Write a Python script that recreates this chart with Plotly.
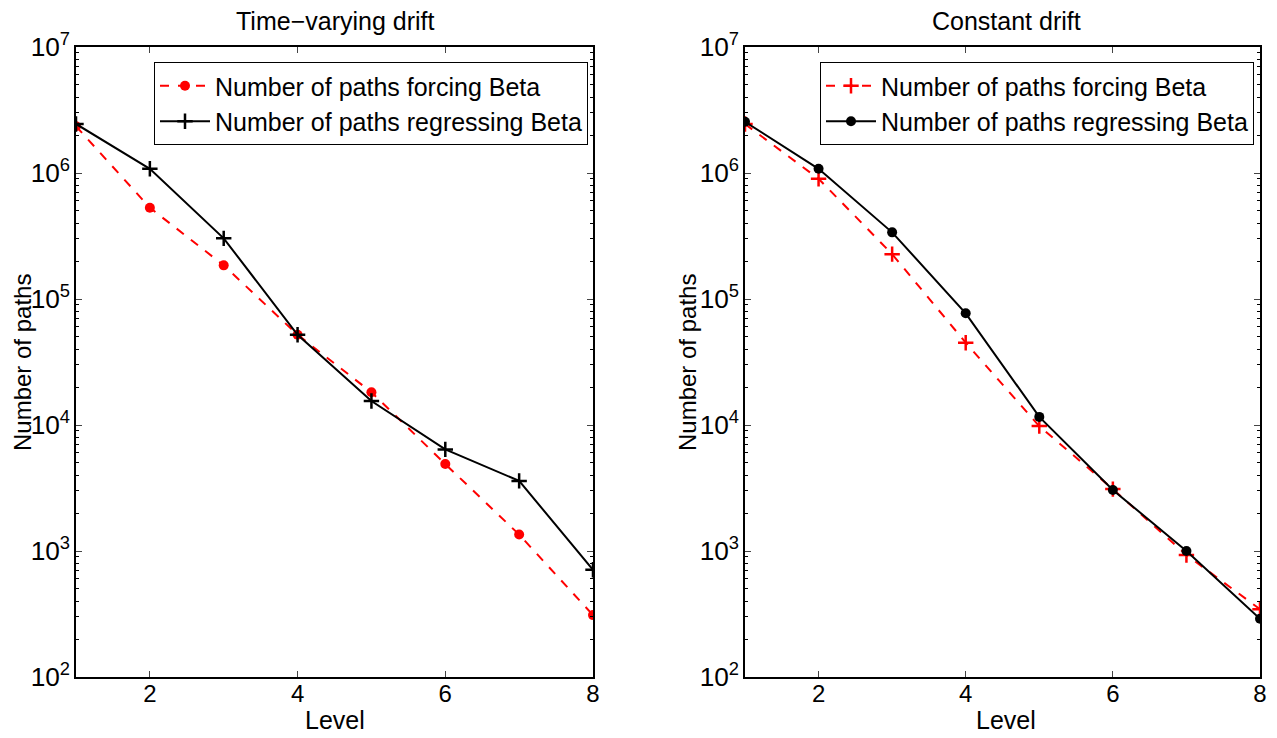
import plotly.graph_objects as go

levels = [1, 2, 3, 4, 5, 6, 7, 8]

# Time-varying drift
tv_forcing = [2.35e6, 5.3e5, 1.85e5, 5.2e4, 1.82e4, 4.9e3, 1.35e3, 310]
tv_regressing = [2.45e6, 1.08e6, 3.03e5, 5.2e4, 1.55e4, 6.4e3, 3.6e3, 710]

# Constant drift
cd_forcing = [2.45e6, 9.0e5, 2.27e5, 4.5e4, 9.8e3, 3.1e3, 930, 345]
cd_regressing = [2.55e6, 1.08e6, 3.38e5, 7.7e4, 1.16e4, 3.05e3, 1000, 290]

titles = ["Time\u2212varying drift", "Constant drift"]
name_forcing = "Number of paths forcing Beta"
name_regressing = "Number of paths regressing Beta"

# the page body has an 8px margin, so the figure is drawn offset by 8px
OFF = 8
W, H = 1277 - OFF, 738 - OFF
FONT = "Liberation Sans, Arial, sans-serif"

fig = go.Figure()

RED = "#ff0000"
BLACK = "#000000"

# left panel
fig.add_trace(go.Scatter(x=levels, y=tv_forcing, name=name_forcing, mode="lines+markers",
                         line=dict(color=RED, width=2, dash="dash"),
                         marker=dict(symbol="circle", size=10, color=RED),
                         xaxis="x", yaxis="y", legend="legend"))
fig.add_trace(go.Scatter(x=levels, y=tv_regressing, name=name_regressing, mode="lines+markers",
                         line=dict(color=BLACK, width=2),
                         marker=dict(symbol="cross-thin", size=11, color=BLACK,
                                     line=dict(color=BLACK, width=2.5)),
                         xaxis="x", yaxis="y", legend="legend"))
# right panel
fig.add_trace(go.Scatter(x=levels, y=cd_forcing, name=name_forcing, mode="lines+markers",
                         line=dict(color=RED, width=2, dash="dash"),
                         marker=dict(symbol="cross-thin", size=11, color=RED,
                                     line=dict(color=RED, width=2.5)),
                         xaxis="x2", yaxis="y2", legend="legend2"))
fig.add_trace(go.Scatter(x=levels, y=cd_regressing, name=name_regressing, mode="lines+markers",
                         line=dict(color=BLACK, width=2),
                         marker=dict(symbol="circle", size=10, color=BLACK),
                         xaxis="x2", yaxis="y2", legend="legend2"))

def px_x(p):
    return (p - OFF) / W

def px_y(p):
    return 1 - (p - OFF) / H

left_dom = [px_x(76), px_x(593)]
right_dom = [px_x(745), px_x(1260)]
y_dom = [px_y(677), px_y(47)]

xaxis_common = dict(range=[1, 8], tickvals=[2, 4, 6, 8], ticks="inside", ticklen=6,
                    showline=True, linecolor="black", linewidth=1.5, mirror="ticks",
                    showgrid=False, zeroline=False, automargin=False,
                    ticklabelstandoff=-6,
                    tickfont=dict(family=FONT, size=24, color="black"))
yaxis_common = dict(type="log", range=[2, 7], dtick=1, exponentformat="power",
                    ticks="inside", ticklen=6, showline=True, linecolor="black",
                    linewidth=1.5, mirror="ticks", showgrid=False, zeroline=False,
                    automargin=False,
                    minor=dict(ticks="inside", ticklen=3, showgrid=False, tickcolor="black"),
                    tickfont=dict(family=FONT, size=21, color="black"))

legend_common = dict(bgcolor="white", bordercolor="black", borderwidth=1,
                     font=dict(family=FONT, size=25, color="black"),
                     xanchor="right", yanchor="top", tracegroupgap=0,
                     itemwidth=50)

fig.update_layout(
    width=W, height=H, margin=dict(l=0, r=0, t=0, b=0, autoexpand=False),
    paper_bgcolor="white", plot_bgcolor="white",
    xaxis=dict(domain=left_dom, anchor="y", **xaxis_common),
    yaxis=dict(domain=y_dom, anchor="x", **yaxis_common),
    xaxis2=dict(domain=right_dom, anchor="y2", **xaxis_common),
    yaxis2=dict(domain=y_dom, anchor="x2", **yaxis_common),
    legend=dict(x=px_x(588), y=px_y(62), **legend_common),
    legend2=dict(x=px_x(1254), y=px_y(62), **legend_common),
    font=dict(family=FONT, color="black"),
)

ann = []
for title, cx in zip(titles, [335, 1006]):
    ann.append(dict(text=title, x=px_x(cx), y=px_y(21), xref="paper", yref="paper",
                    showarrow=False, font=dict(family=FONT, size=25, color="black"),
                    xanchor="center", yanchor="middle"))
    ann.append(dict(text="Level", x=px_x(cx), y=px_y(720), xref="paper", yref="paper",
                    showarrow=False, font=dict(family=FONT, size=25, color="black"),
                    xanchor="center", yanchor="middle"))
for cx in [23, 688]:
    ann.append(dict(text="Number of paths", x=px_x(cx), y=px_y(363), xref="paper", yref="paper",
                    showarrow=False, textangle=-90, font=dict(family=FONT, size=24, color="black"),
                    xanchor="center", yanchor="middle"))
fig.update_layout(annotations=ann)

fig.write_html("out.html")
